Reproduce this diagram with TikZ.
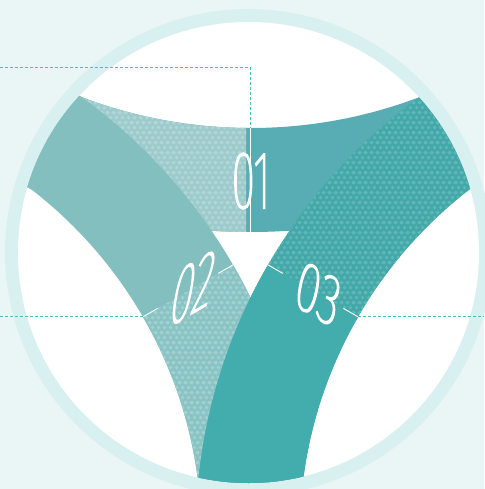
\documentclass[tikz,border=0pt]{standalone}
\usepackage{fontspec}
\newfontfamily\numfont{Fira Sans Thin}[FakeStretch=0.52, FakeBold=2]
\newfontfamily\numfontw{Fira Sans Thin}[FakeStretch=0.55, FakeBold=2.2, FakeSlant=0.2]
\usetikzlibrary{calc,patterns}
\definecolor{bgfill}{RGB}{234,246,246}
\definecolor{ringfill}{RGB}{217,240,240}
\definecolor{bandA}{RGB}{88,173,180}
\definecolor{bandAbase}{RGB}{157,203,204}
\definecolor{bandAdot}{RGB}{178,214,215}
\definecolor{bandB}{RGB}{132,191,191}
\definecolor{bandBbase}{RGB}{137,195,195}
\definecolor{bandBdot}{RGB}{163,208,208}
\definecolor{bandC}{RGB}{67,172,172}
\definecolor{bandCbase}{RGB}{68,168,168}
\definecolor{bandCdot}{RGB}{95,184,184}
\definecolor{leadcol}{RGB}{70,190,190}
\pgfdeclarepatternformonly{hexdots}{\pgfpointorigin}{\pgfpoint{6pt}{10.4pt}}{\pgfpoint{6pt}{10.4pt}}{%
  \pgfpathcircle{\pgfpoint{3pt}{2.6pt}}{2.1pt}
  \pgfpathcircle{\pgfpoint{0pt}{7.8pt}}{2.1pt}
  \pgfpathcircle{\pgfpoint{6pt}{7.8pt}}{2.1pt}
  \pgfusepath{fill}}
\tikzset{
  leaderln/.style={leadcol, line width=1pt, dash pattern=on 3pt off 2pt},
  tickln/.style={white, line width=0.9pt},
  numlab/.style={white, inner sep=0pt, font=\numfont\fontsize{82}{82}\selectfont},
  numlabw/.style={white, inner sep=0pt, font=\numfontw\fontsize{76}{76}\selectfont},
  dotband/.style 2 args={fill=#1, postaction={even odd rule, pattern=hexdots, pattern color=#2}},
}

\begin{document}
\begin{tikzpicture}[x=1pt, y=-1pt]
  \fill[bgfill] (0,0) rectangle (484,489);
  \useasboundingbox (0,0) rectangle (484,489);
  % frame
  \coordinate (mid) at (248.5,252.5);
  \fill[ringfill] (mid) circle (243.5);
  \fill[white] (mid) circle (230.5);
  % centres of the three bands
  \coordinate (c1) at (250.5,-347.6);
  \coordinate (c2) at (-235.6,535.4);
  \coordinate (c3) at (736.6,535.4);
  \begin{scope}
    \clip (mid) circle (230.5);
    % band 01
    \fill[bandA, even odd rule] (c1) circle (579.6) (c1) circle (475.6);
    \begin{scope}
      \clip (0,0) rectangle (246,489);
      \path[even odd rule, dotband={bandAbase}{bandAdot}] (c1) circle (579.6) (c1) circle (475.6);
    \end{scope}
    % band 02
    \fill[bandB, even odd rule] (c2) circle (541) (c2) circle (437);
    \begin{scope}
      \clip (c2) -- ($(c2)+(-30:1000)$) -- (630,900) -- (-236,900) -- cycle;
      \path[even odd rule, dotband={bandBbase}{bandBdot}] (c2) circle (541) (c2) circle (437);
    \end{scope}
    % band 03
    \path[even odd rule, dotband={bandCbase}{bandCdot}] (c3) circle (541) (c3) circle (437);
    \begin{scope}
      \clip (c3) -- ($(c3)+(-150:1000)$) -- (-130,900) -- (737,900) -- cycle;
      \fill[bandC, even odd rule] (c3) circle (541) (c3) circle (437);
    \end{scope}
  \end{scope}
  % ticks and labels
  \coordinate (a01) at (250.5,128);
  \coordinate (b01) at (250.5,232);
  \draw[tickln] (a01) -- (b01);
  \node[numlab] (n01) at (251,181) {01};
  \foreach \n/\c/\ang/\sl in {02/c2/-30/0.577, 03/c3/-150/-0.577}{
    \coordinate (a\n) at ($(\c)+(\ang:437)$);
    \coordinate (b\n) at ($(\c)+(\ang:541)$);
    \draw[tickln] (a\n) -- ($(\c)+(\ang:454)$);
    \draw[tickln] ($(\c)+(\ang:524)$) -- (b\n);
    \node[numlabw, yslant=\sl] (n\n) at ($(\c)+(\ang:489)$) {\n};
  }
  % leaders
  \coordinate (e01) at (0,68);
  \coordinate (e02) at (0,316.9);
  \coordinate (e03) at (484,316.9);
  \draw[leaderln] (e01) -| (a01);
  \draw[leaderln] (e02) -- (a02);
  \draw[leaderln] (a03) -- (e03);
\end{tikzpicture}
\end{document}
